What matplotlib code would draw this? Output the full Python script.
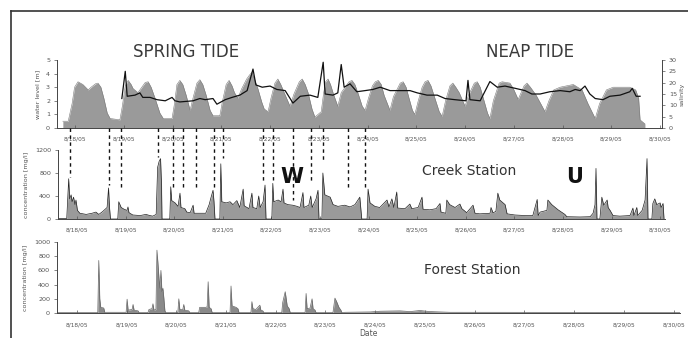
import matplotlib
matplotlib.use("Agg")
import matplotlib.pyplot as plt
from matplotlib.lines import Line2D

# ---------------- data (time in days since 8/18/05 00:00) ----------------
date_labels = ["8/18/05", "8/19/05", "8/20/05", "8/21/05", "8/22/05", "8/23/05",
               "8/24/05", "8/25/05", "8/26/05", "8/27/05", "8/28/05", "8/29/05",
               "8/30/05"]

# water level [m]
level_t = [-0.25, -0.14, -0.06, -0.01, 0.06, 0.16, 0.27, 0.33, 0.42, 0.47, 0.53, 0.59, 0.66, 0.72, 0.92,
           0.97, 1.03, 1.09, 1.15, 1.19, 1.29, 1.39, 1.44, 1.50, 1.56, 1.64, 1.74, 1.81, 1.99,
           2.04, 2.09, 2.15, 2.21, 2.28, 2.36, 2.42, 2.50, 2.56, 2.62, 2.69, 2.77, 2.83, 2.97,
           3.02, 3.10, 3.16, 3.22, 3.27, 3.34, 3.42, 3.52, 3.58, 3.63, 3.68, 3.75, 3.83, 3.88, 3.96,
           4.02, 4.10, 4.16, 4.22, 4.29, 4.41, 4.49, 4.60, 4.66, 4.72, 4.78, 4.86, 4.92, 5.05,
           5.10, 5.14, 5.19, 5.24, 5.30, 5.39, 5.46, 5.62, 5.68, 5.74, 5.81, 5.89, 5.95, 6.02, 6.10, 6.16,
           6.22, 6.28, 6.34, 6.46, 6.53, 6.67, 6.73, 6.79, 6.85, 6.92, 6.97, 7.04, 7.12, 7.18, 7.24, 7.30,
           7.38, 7.47, 7.53, 7.60, 7.69, 7.75, 7.81, 7.88, 8.00, 8.07, 8.19, 8.25, 8.31, 8.39, 8.46, 8.51,
           8.58, 8.70, 8.76, 8.92, 8.99, 9.09, 9.21, 9.27, 9.34, 9.46, 9.58, 9.64, 9.72, 9.82, 9.95, 10.22,
           10.40, 10.52, 10.67, 10.76, 10.90, 11.04, 11.38, 11.50, 11.56, 11.59, 11.69]
level_v = [0.5, 0.5, 1.8, 3.0, 3.4, 3.2, 2.8, 3.0, 3.25, 3.3, 3.0, 2.2, 1.1, 0.7, 0.6,
           1.6, 3.1, 3.5, 3.2, 2.9, 2.6, 3.1, 3.35, 3.4, 3.0, 2.2, 1.1, 0.7, 0.7,
           1.8, 3.2, 3.5, 3.2, 2.4, 1.3, 2.2, 3.3, 3.55, 3.2, 2.4, 1.3, 0.9, 0.9,
           1.9, 3.2, 3.5, 3.1, 2.6, 2.2, 2.9, 3.6, 3.9, 4.1, 3.6, 2.9, 1.9, 1.4, 1.2,
           2.2, 3.3, 3.6, 3.2, 2.6, 1.6, 2.5, 3.4, 3.6, 3.2, 2.6, 1.4, 0.8, 1.2,
           2.6, 3.4, 3.6, 3.2, 2.5, 1.6, 2.6, 3.4, 3.5, 3.2, 2.5, 1.6, 1.3, 2.2, 3.1, 3.4,
           3.5, 3.2, 2.4, 1.3, 2.3, 3.3, 3.4, 3.0, 2.2, 1.3, 1.0, 2.0, 3.0, 3.4, 3.5, 3.1,
           2.2, 1.2, 0.85, 2.0, 3.1, 3.3, 3.0, 2.6, 1.6, 2.4, 3.3, 3.4, 3.0, 2.0, 1.1, 0.7,
           2.0, 3.3, 3.4, 3.3, 2.9, 2.1, 3.1, 3.3, 3.0, 2.4, 1.6, 1.2, 2.0, 2.8, 3.0, 3.2,
           2.8, 1.8, 0.7, 1.8, 2.8, 3.0, 3.0, 2.8, 2.2, 0.6, 0.3]

# salinity
sal_t = [0.96, 1.03, 1.07, 1.23, 1.33, 1.39, 1.54, 1.68, 1.85, 1.99, 2.05,
         2.15, 2.42, 2.56, 2.67, 2.83, 2.91, 3.08, 3.22, 3.38, 3.53, 3.65,
         3.71, 3.84, 4.00, 4.14, 4.31, 4.47, 4.62, 4.82, 4.98, 5.09, 5.13,
         5.29, 5.39, 5.46, 5.52, 5.64, 5.78, 5.95, 6.11, 6.26, 6.46, 6.67,
         6.87, 7.02, 7.22, 7.43, 7.59, 7.79, 8.02, 8.06, 8.10, 8.31, 8.51,
         8.66, 8.82, 9.03, 9.23, 9.37, 9.54, 9.74, 9.95, 10.15, 10.26, 10.36,
         10.46, 10.56, 10.67, 10.83, 10.97, 11.18, 11.38, 11.43, 11.51, 11.59]
sal_v = [13, 25, 14, 14.5, 15.5, 13.5, 13.5, 12.5, 12, 13.5, 12,
         11.5, 12, 13, 12.5, 13, 10.5, 12.5, 13.5, 14.5, 16.5, 26,
         19, 18, 18.5, 17, 16.5, 11, 14, 14.5, 13.5, 29, 15,
         14.5, 15.5, 28, 18, 19.5, 16, 16.5, 17, 18, 16.5, 16.5,
         16.5, 15.5, 14.5, 14.5, 13, 12.5, 12, 21, 12.5, 12, 20.5,
         18, 18.5, 17.5, 16.5, 15, 15, 16, 16.5, 16, 17, 16.5,
         18.5, 15, 13, 12.5, 14, 14.5, 16, 17.5, 14, 14]

# creek station concentration [mg/l]
creek_t = [-0.39, -0.21, -0.17, -0.15, -0.12, -0.10, -0.07, -0.04, -0.02, 0.01,
           0.06, 0.19, 0.31, 0.39, 0.45, 0.53, 0.62, 0.65, 0.67, 0.69, 0.84,
           0.86, 0.91, 0.97, 1.03, 1.05, 1.07, 1.15, 1.30, 1.42, 1.50, 1.56,
           1.63, 1.66, 1.69, 1.72, 1.74, 1.75, 1.91, 1.93, 1.95, 2.02, 2.08,
           2.12, 2.14, 2.22, 2.26, 2.33, 2.39, 2.41, 2.53, 2.65, 2.72, 2.76,
           2.80, 2.82, 2.84, 2.94, 2.96, 2.98, 3.07, 3.15, 3.21, 3.29, 3.35,
           3.42, 3.44, 3.54, 3.60, 3.62, 3.70, 3.74, 3.77, 3.83, 3.87, 3.89,
           4.01, 4.03, 4.05, 4.14, 4.20, 4.24, 4.26, 4.34, 4.44, 4.53, 4.59,
           4.65, 4.67, 4.77, 4.81, 4.84, 4.92, 4.96, 4.98, 5.04, 5.06, 5.10,
           5.21, 5.27, 5.37, 5.51, 5.62, 5.72, 5.82, 5.86, 5.97, 5.99, 6.03,
           6.13, 6.23, 6.38, 6.42, 6.48, 6.52, 6.58, 6.60, 6.75, 6.85, 6.89,
           7.02, 7.10, 7.12, 7.26, 7.39, 7.47, 7.49, 7.59, 7.61, 7.67, 7.78,
           7.88, 7.92, 8.02, 8.15, 8.19, 8.29, 8.50, 8.52, 8.56, 8.62, 8.66,
           8.70, 8.81, 8.85, 9.01, 9.22, 9.38, 9.47, 9.49, 9.53, 9.67, 9.69,
           9.77, 9.90, 10.04, 10.08, 10.35, 10.56, 10.62, 10.66, 10.68, 10.70,
           10.76, 10.80, 10.84, 10.91, 10.93, 10.97, 11.03, 11.17, 11.38, 11.44,
           11.46, 11.52, 11.54, 11.63, 11.69, 11.73, 11.75, 11.83, 11.85, 11.89,
           11.93, 12.00, 12.02, 12.06, 12.08]
creek_v = [10, 10, 700, 350, 420, 300, 380, 250, 330, 150,
           100, 80, 100, 120, 80, 130, 200, 540, 200, 0, 0,
           300, 200, 170, 150, 210, 110, 70, 60, 80, 60, 50,
           80, 900, 1000, 1050, 600, 0, 0, 560, 320, 280, 220,
           450, 200, 180, 120, 110, 240, 100, 100, 100, 250, 380,
           500, 300, 0, 0, 960, 300, 280, 300, 250, 320, 200,
           520, 230, 180, 450, 200, 180, 400, 200, 300, 590, 0,
           0, 620, 300, 330, 300, 520, 280, 250, 240, 220, 200,
           460, 200, 240, 400, 200, 350, 500, 0, 0, 800, 420,
           380, 250, 220, 240, 210, 250, 380, 0, 0, 520, 280,
           220, 200, 330, 210, 350, 200, 470, 190, 180, 260, 180,
           200, 380, 170, 160, 180, 270, 120, 100, 330, 250, 200,
           260, 180, 110, 240, 100, 90, 100, 200, 110, 130, 450,
           330, 250, 90, 70, 60, 60, 340, 60, 120, 150, 330,
           250, 160, 80, 40, 35, 40, 100, 250, 880, 0,
           0, 380, 240, 330, 200, 150, 60, 50, 60, 190,
           60, 200, 60, 150, 330, 1050, 0, 0, 270, 350,
           250, 280, 200, 270, 0]

# forest station concentration [mg/l]
forest_t = [-0.40, 0.42, 0.44, 0.46, 0.48, 0.54, 0.56, 0.99, 1.01, 1.03, 1.11,
            1.13, 1.15, 1.23, 1.25, 1.43, 1.45, 1.51, 1.53, 1.55, 1.59, 1.61,
            1.63, 1.65, 1.67, 1.69, 1.71, 1.73, 1.75, 1.77, 1.79, 2.03, 2.05,
            2.07, 2.13, 2.15, 2.17, 2.25, 2.27, 2.45, 2.47, 2.60, 2.62, 2.64,
            2.66, 2.70, 2.72, 3.08, 3.10, 3.12, 3.20, 3.24, 3.26, 3.50, 3.52,
            3.54, 3.60, 3.68, 3.70, 3.74, 3.76, 4.12, 4.14, 4.19, 4.21, 4.23,
            4.27, 4.29, 4.59, 4.61, 4.63, 4.69, 4.73, 4.75, 4.79, 4.81, 5.15,
            5.19, 5.23, 5.27, 5.31, 5.33, 5.39, 5.90, 6.10, 6.50, 6.70, 6.90,
            7.10, 7.30, 7.50, 12.13]
forest_v = [5, 5, 740, 200, 80, 70, 10, 10, 195, 40, 50,
            120, 40, 30, 5, 5, 50, 60, 130, 40, 50, 885,
            700, 500, 350, 600, 300, 350, 200, 30, 5, 5, 200,
            50, 50, 120, 40, 30, 5, 5, 80, 80, 90, 440,
            80, 60, 5, 5, 380, 100, 80, 60, 5, 5, 160,
            60, 50, 110, 40, 30, 5, 5, 150, 300, 200, 100,
            60, 5, 5, 275, 60, 70, 200, 60, 40, 5, 5,
            210, 150, 80, 40, 5, 10, 15, 25, 30, 20, 35,
            20, 15, 10, 8]

# dashed event markers in the creek panel: time and concentration they reach
event_t = [-0.14, 0.66, 0.91, 1.67, 1.98, 2.18, 2.45, 2.82, 3.00,
           3.83, 4.03, 4.44, 4.82, 5.06, 5.58, 5.93]
event_v = [730, 590, 505, 1080, 505, 540, 505, 540, 1060,
           626, 678, 330, 626, 1026, 505, 505]

# ---------------- figure ----------------
W, H = 688, 338
fig = plt.figure(figsize=(W / 100, H / 100), dpi=100)
plt.rcParams['font.family'] = ['DejaVu Sans']

FILL = '#9a9a9a'
TICKC = '#555555'


def px_axes(x0, x1, y_top, y_bot):
    return fig.add_axes([x0 / W, 1 - y_bot / H, (x1 - x0) / W, (y_bot - y_top) / H])


def style(ax, xlim, pad):
    ax.set_xlim(*xlim)
    ax.set_xticks(range(len(date_labels)))
    ax.set_xticklabels(date_labels)
    for s in ('top', 'right'):
        ax.spines[s].set_visible(False)
    for s in ('left', 'bottom'):
        ax.spines[s].set_color('#444444')
        ax.spines[s].set_linewidth(0.7)
    ax.tick_params(axis='x', labelsize=4.2, colors=TICKC, length=2, width=0.5,
                   pad=pad, direction='in')
    ax.tick_params(axis='y', labelsize=4.6, colors=TICKC, length=2, width=0.5, pad=3)
    ax.patch.set_visible(False)


# top panel: water level and salinity
ax1 = px_axes(57, 662, 60, 128)
ax1.fill_between(level_t, 0, level_v, color=FILL, lw=0)
ax1.plot(level_t, level_v, color='#7a7a7a', lw=0.4)
ax1.set_ylim(0, 5)
ax1.set_yticks(range(6))
style(ax1, (-0.37, 12.04), 6)
ax1.set_ylabel('water level [m]', fontsize=4.6, color=TICKC, labelpad=4)
ax1r = ax1.twinx()
ax1r.plot(sal_t, sal_v, color='#111111', lw=0.9)
ax1r.set_ylim(0, 30)
ax1r.set_yticks(range(0, 31, 5))
ax1r.set_xlim(-0.37, 12.04)
for s in ('top', 'left', 'bottom'):
    ax1r.spines[s].set_visible(False)
ax1r.spines['right'].set_color('#444444')
ax1r.spines['right'].set_linewidth(0.7)
ax1r.tick_params(axis='y', labelsize=4.6, colors=TICKC, length=2, width=0.5, pad=3)
ax1r.set_ylabel('salinity', fontsize=4.6, color=TICKC, labelpad=2)

# middle panel: creek station
ax2 = px_axes(58, 665, 150, 219)
ax2.fill_between(creek_t, 0, creek_v, color=FILL, lw=0)
ax2.plot(creek_t, creek_v, color='#222222', lw=0.5)
ax2.set_ylim(0, 1200)
ax2.set_yticks([0, 400, 800, 1200])
style(ax2, (-0.39, 12.10), 6)
ax2.set_ylabel('concentration [mg/l]', fontsize=4.6, color=TICKC, labelpad=4)
for t, v in zip(event_t, event_v):
    ax2.plot([t, t], [1580, v], color='#111111', lw=1.0, ls=(0, (2.5, 2.5)),
             clip_on=False)

# bottom panel: forest station
ax3 = px_axes(57, 680, 242, 313)
ax3.fill_between(forest_t, 0, forest_v, color='#8a8a8a', lw=0)
ax3.plot(forest_t, forest_v, color='#666666', lw=0.5)
ax3.set_ylim(0, 1000)
ax3.set_yticks(range(0, 1001, 200))
style(ax3, (-0.40, 12.13), 7)
ax3.set_ylabel('concentration [mg/l]', fontsize=4.6, color=TICKC, labelpad=4)
ax3.set_xlabel('Date', fontsize=5.5, color=TICKC, labelpad=1)

# annotations
def ftext(x, y, s, **kw):
    fig.text(x / W, 1 - y / H, s, ha='center', va='center', **kw)

ftext(186, 52, 'SPRING TIDE', fontsize=12, color='#3a3a3a')
ftext(530, 52, 'NEAP TIDE', fontsize=12, color='#3a3a3a')
ftext(469, 171, 'Creek Station', fontsize=10, color='#333333')
ftext(472, 270, 'Forest Station', fontsize=10, color='#333333')
ftext(292, 177, 'W', fontsize=15, fontweight='bold', color='#111111')
ftext(575, 177, 'U', fontsize=15, fontweight='bold', color='#111111')

# outer frame
fig.add_artist(Line2D([11 / W, 1.0], [1 - 11 / H, 1 - 11 / H], color='#333333', lw=1.2))
fig.add_artist(Line2D([11 / W, 11 / W], [0.0, 1 - 11 / H], color='#333333', lw=1.2))

fig.savefig('out.png', dpi=100)
